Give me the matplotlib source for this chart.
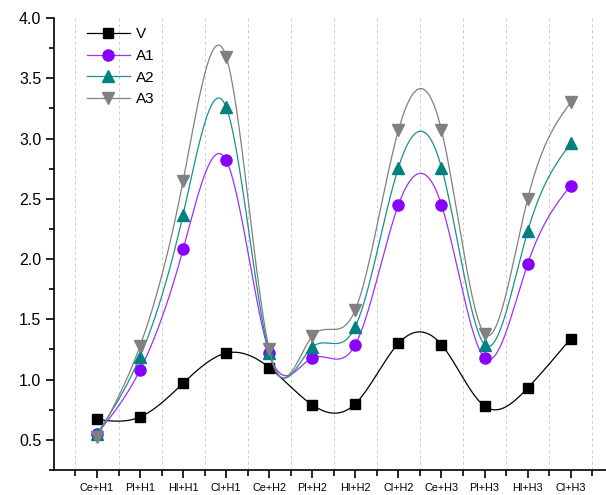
import matplotlib
matplotlib.use("Agg")
import matplotlib.pyplot as plt
import numpy as np
from matplotlib.ticker import MultipleLocator

plt.rcParams['font.family'] = ['Liberation Sans', 'DejaVu Sans']

categories = ['Ce+H1', 'Pl+H1', 'Hl+H1', 'Cl+H1', 'Ce+H2', 'Pl+H2',
              'Hl+H2', 'Cl+H2', 'Ce+H3', 'Pl+H3', 'Hl+H3', 'Cl+H3']
V = [0.67, 0.69, 0.97, 1.22, 1.10, 0.79, 0.80, 1.30, 1.29, 0.78, 0.93, 1.34]
A1 = [0.55, 1.08, 2.08, 2.82, 1.22, 1.18, 1.29, 2.45, 2.45, 1.18, 1.96, 2.61]
A2 = [0.55, 1.19, 2.37, 3.26, 1.22, 1.27, 1.44, 2.76, 2.76, 1.29, 2.23, 2.96]
A3 = [0.52, 1.28, 2.65, 3.68, 1.25, 1.36, 1.58, 3.07, 3.07, 1.38, 2.50, 3.30]


def natural_spline(x, y, xs):
    # natural cubic spline, just for drawing the smooth connecting line
    x = np.asarray(x, float)
    y = np.asarray(y, float)
    n = len(x)
    h = np.diff(x)
    A = np.zeros((n, n))
    b = np.zeros(n)
    A[0, 0] = 1
    A[-1, -1] = 1
    for i in range(1, n - 1):
        A[i, i - 1] = h[i - 1]
        A[i, i] = 2 * (h[i - 1] + h[i])
        A[i, i + 1] = h[i]
        b[i] = 3 * ((y[i + 1] - y[i]) / h[i] - (y[i] - y[i - 1]) / h[i - 1])
    c = np.linalg.solve(A, b)
    out = np.empty_like(xs)
    for k, t in enumerate(xs):
        i = min(max(np.searchsorted(x, t) - 1, 0), n - 2)
        d = (c[i + 1] - c[i]) / (3 * h[i])
        bb = (y[i + 1] - y[i]) / h[i] - h[i] * (2 * c[i] + c[i + 1]) / 3
        dt = t - x[i]
        out[k] = y[i] + bb * dt + c[i] * dt ** 2 + d * dt ** 3
    return out


x = np.arange(len(categories))
xs = np.linspace(0, len(categories) - 1, 600)

fig = plt.figure(figsize=(6.06, 4.95), dpi=100)
ax = fig.add_axes([0.089, 0.0505, 0.911, 0.913])

series = [
    ('V', V, 'black', 'black', 's', 7.5),
    ('A1', A1, '#9b30ff', '#8800ff', 'o', 8),
    ('A2', A2, '#1a9090', '#008080', '^', 8.5),
    ('A3', A3, '#808080', '#808080', 'v', 8.5),
]
for name, vals, lc, mc, m, ms in series:
    ax.plot(xs, natural_spline(x, vals, xs), color=lc, lw=0.9)
    ax.plot(x, vals, ls='none', marker=m, ms=ms, color=mc, mec=mc)
    ax.plot([], [], color=lc, lw=0.9, marker=m, ms=ms, mfc=mc, mec=mc, label=name)

for g in np.arange(-0.5, 12, 1.0):
    ax.axvline(g, color='#cccccc', ls=(0, (3, 3)), lw=0.7, zorder=0)

ax.set_xlim(-1, 11.82)
ax.set_ylim(0.25, 4.0)
ax.set_xticks(x)
ax.set_xticklabels(categories, fontsize=7.8)
ax.set_xticks(np.arange(-0.5, 12, 1.0), minor=True)
ax.yaxis.set_major_locator(MultipleLocator(0.5))
ax.yaxis.set_minor_locator(MultipleLocator(0.25))
ax.tick_params(axis='y', labelsize=11.5, width=1.2, length=6, pad=3)
ax.tick_params(axis='y', which='minor', width=1.2, length=3.5)
ax.tick_params(axis='x', width=1.2, length=6, pad=3)
ax.tick_params(axis='x', which='minor', width=1.2, length=4)
ax.spines['top'].set_visible(False)
ax.spines['right'].set_visible(False)
ax.spines['left'].set_linewidth(1.2)
ax.spines['bottom'].set_linewidth(1.2)

ax.legend(loc='upper left', bbox_to_anchor=(0.035, 1.01), frameon=False,
          fontsize=11, handlelength=2.8, labelspacing=0.5, handletextpad=0.4)

fig.savefig('out.png', dpi=100)
